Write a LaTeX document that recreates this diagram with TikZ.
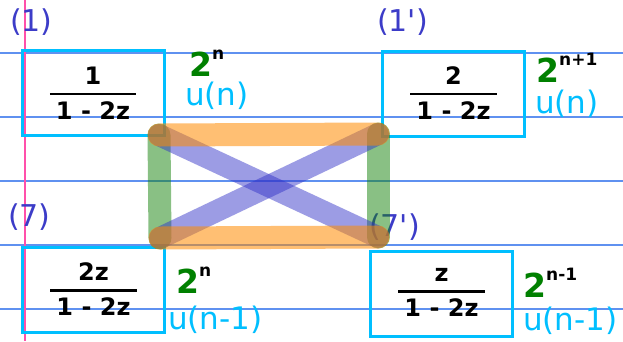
\documentclass[tikz,border=0pt]{standalone}
\usepackage{fontspec}
\setmainfont{DejaVu Sans}
\definecolor{gridblue}{RGB}{95,145,240}
\definecolor{marginpink}{RGB}{255,80,170}
\definecolor{boxcyan}{RGB}{0,191,255}
\definecolor{lblue}{RGB}{60,60,200}
\definecolor{hgreen}{RGB}{0,128,0}
\definecolor{sorange}{RGB}{255,140,0}
\definecolor{sgreen}{RGB}{20,130,10}
\definecolor{sblue}{RGB}{50,50,200}
\newcommand\frc[2]{\setlength\arrayrulewidth{2.6pt}\begin{tabular}{@{\hspace{6pt}}c@{\hspace{6pt}}}#1\\[0pt]\hline\rule{0pt}{24pt}#2\end{tabular}}
\newcommand\pw[1]{{\color{hgreen}\fontsize{33}{36}\selectfont 2}\raisebox{17pt}{\fontsize{17}{20}\selectfont #1}}
\begin{document}
\begin{tikzpicture}[x=1pt,y=-1pt,
  ruling/.style={gridblue,line width=1.2pt},
  margin/.style={marginpink,line width=1.5pt},
  box/.style={draw=boxcyan,line width=3pt,minimum width=142pt,minimum height=85pt,inner sep=0pt},
  fracnode/.style={inner sep=0pt,font=\fontsize{24}{28}\selectfont\bfseries},
  tag/.style={text=lblue,font=\fontsize{30}{36}\selectfont,inner sep=0pt,anchor=west},
  seqlbl/.style={text=boxcyan,font=\fontsize{31}{36}\selectfont,inner sep=0pt,anchor=west},
  powlbl/.style={font=\bfseries,inner sep=0pt,anchor=base west},
  ostroke/.style={sorange,opacity=0.55,line width=23pt,line cap=round},
  gstroke/.style={sgreen,opacity=0.5,line width=23pt,line cap=round},
  bstroke/.style={sblue,opacity=0.48,line width=22pt,line cap=round}]
\useasboundingbox (0,0) rectangle (623,341);
\fill[white] (0,0) rectangle (623,341);
% ruled paper
\foreach \yy in {53,117,181,245,309}{\draw[ruling] (0,\yy) -- (623,\yy);}
\draw[margin] (25,0) -- (25,341);
% boxes
\node[box] (b1) at (93,93) {};
\node[box] (b1p) at (453.5,93.5) {};
\node[box] (b7) at (93.5,289.5) {};
\node[box] (b7p) at (441.5,293.5) {};
\node[fracnode] (f1) at ([yshift=-3pt]b1.center) {\frc{1}{1 - 2z}};
\node[fracnode] (f1p) at ([yshift=-2.5pt]b1p.center) {\frc{2}{1 - 2z}};
\node[fracnode] (f7) at ([yshift=-3pt]b7.center) {\frc{2z}{1 - 2z}};
\node[fracnode] (f7p) at ([yshift=0pt]b7p.center) {\frc{z}{1 - 2z}};
% tags
\node[tag] (t1) at (10,22) {(1)};
\node[tag] (t1p) at (377,22) {(1\textquotesingle)};
\node[tag] (t7) at (8,217) {(7)};
\node[tag] (t7p) at (369,227.5) {(7\textquotesingle)};
% powers
\node[powlbl] (p1) at (189,76) {\pw{n}};
\node[powlbl] (p1p) at (536,82) {\pw{n+1}};
\node[powlbl] (p7) at (176,293) {\pw{n}};
\node[powlbl] (p7p) at (523,297) {\pw{n-1}};
% sequences
\node[seqlbl] (s1) at (185,96) {u(n)};
\node[seqlbl] (s1p) at (535,104) {u(n)};
\node[seqlbl] (s7) at (168,320) {u(n-1)};
\node[seqlbl] (s7p) at (523,321) {u(n-1)};
% highlighter strokes
\coordinate (tl) at (159,135);
\coordinate (tr) at (378,134);
\coordinate (bl) at (160,238);
\coordinate (br) at (378,237);
\draw[gstroke] (tl) -- (bl);
\draw[gstroke] (tr) -- (br);
\draw[bstroke] (tl) -- (br);
\draw[bstroke] (bl) -- (tr);
\draw[ostroke] (tl) -- (tr);
\draw[ostroke] (bl) -- (br);
\end{tikzpicture}
\end{document}
